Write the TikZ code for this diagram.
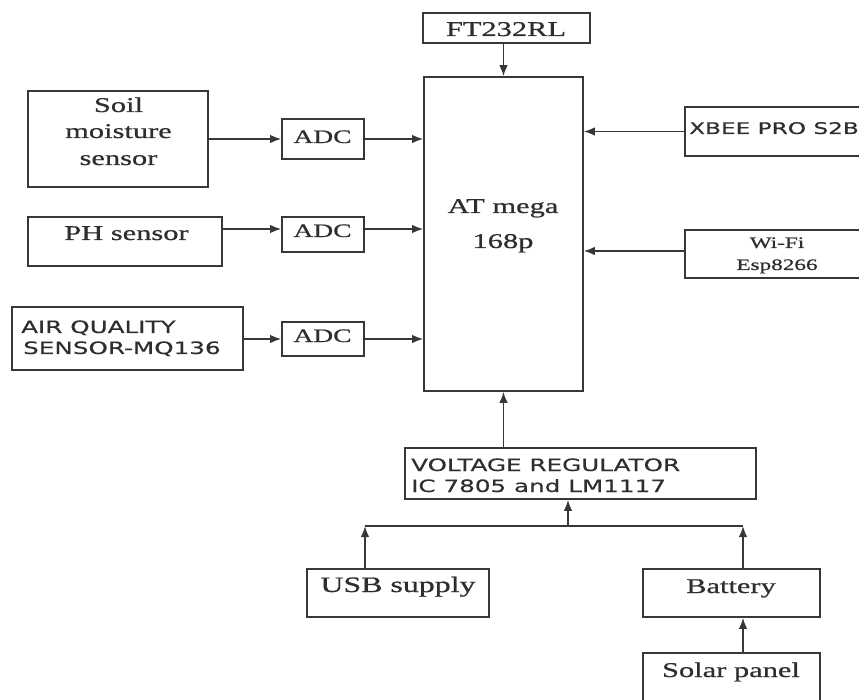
\documentclass[tikz,border=0pt]{standalone}
\usepackage{fontspec}
\setmainfont{Liberation Serif}[FakeStretch=1.45,FakeBold=0.8]
\newfontfamily\widesans{DejaVu Sans}[FakeStretch=1.45,FakeBold=0.4]
\usetikzlibrary{arrows.meta,fit}
\definecolor{linecol}{gray}{0.22}
\definecolor{txtcol}{gray}{0.18}
\begin{document}
\begin{tikzpicture}[x=1pt,y=-1pt,
  box/.style={draw=linecol, line width=1.6pt, inner sep=0pt},
  arr/.style={draw=linecol, line width=1.6pt, -{Latex[length=11pt,width=8.5pt]}},
  ln/.style={draw=linecol, line width=1.6pt},
  txt/.style={text=txtcol, inner sep=0pt, anchor=base},
  serif/.style={font=\fontsize{#1}{#1}\selectfont},
  sans/.style={font=\widesans\fontsize{#1}{#1}\selectfont}]
\useasboundingbox (0,0) rectangle (859,700);
\clip (0,0) rectangle (859,700);
% boxes
\node[box, fit={(423,13) (590,43)}] (ft) {};
\node[box, fit={(424,77) (583,391)}] (at) {};
\node[box, fit={(28,91) (208,187)}] (soil) {};
\node[box, fit={(282,119) (364,159)}] (adc1) {};
\node[box, fit={(28,217) (222,266)}] (ph) {};
\node[box, fit={(282,217) (364,252)}] (adc2) {};
\node[box, fit={(12,307) (243,370)}] (air) {};
\node[box, fit={(282,322) (364,356)}] (adc3) {};
\node[box, fit={(685,107) (872,156)}] (xbee) {};
\node[box, fit={(685,230) (872,278)}] (wifi) {};
\node[box, fit={(405,448) (756,499)}] (reg) {};
\node[box, fit={(307,569) (489,617)}] (usb) {};
\node[box, fit={(643,569) (820,617)}] (bat) {};
\node[box, fit={(643,653) (820,730)}] (sol) {};
% texts
\node[txt, serif=21] (tft) at (506,36) {FT232RL};
\node[txt, serif=21] (tat1) at (503,213) {AT mega};
\node[txt, serif=21] (tat2) at (503,248) {168p};
\node[txt, serif=21] (ts1) at (118.5,112) {Soil};
\node[txt, serif=21] (ts2) at (118.5,138) {moisture};
\node[txt, serif=21] (ts3) at (118.5,165) {sensor};
\node[txt, serif=19] (ta1) at (322.5,143) {ADC};
\node[txt, serif=19] (ta2) at (322.5,237) {ADC};
\node[txt, serif=19] (ta3) at (322.5,342) {ADC};
\node[txt, serif=21] (tph) at (126.5,240) {PH sensor};
\node[txt, sans=17, anchor=base west] (tair1) at (21,333) {AIR QUALITY};
\node[txt, sans=17, anchor=base west] (tair2) at (23,354) {SENSOR-MQ136};
\node[txt, sans=16, anchor=base west] (txb) at (689,134) {XBEE PRO S2B};
\node[txt, serif=16] (tw1) at (777,248) {Wi-Fi};
\node[txt, serif=16] (tw2) at (777,270) {Esp8266};
\node[txt, sans=17, anchor=base west] (tr1) at (411,471) {VOLTAGE REGULATOR};
\node[txt, sans=17, anchor=base west] (tr2) at (411,492) {IC 7805 and LM1117};
\node[txt, serif=22] (tusb) at (398,592) {USB supply};
\node[txt, serif=21] (tbat) at (731,593) {Battery};
\node[txt, serif=21] (tsol) at (731,677) {Solar panel};
% connectors
\coordinate (r2) at (250,229);
\coordinate (r5) at (640,251);
\coordinate (busL) at (365,526);
\coordinate (busR) at (743,526);
\coordinate (busM) at (568,526);
\draw[arr] (ft.south -| at.north) -- (at.north);
\draw[arr] (soil.east) -- (adc1.west);
\draw[arr] (adc1.east) -- (adc1.east -| at.west);
\draw[arr] (ph.east |- r2) -- (adc2.west |- r2);
\draw[arr] (adc2.east |- r2) -- (at.west |- r2);
\draw[arr] (air.east |- adc3.west) -- (adc3.west);
\draw[arr] (adc3.east) -- (adc3.east -| at.west);
\draw[arr] (xbee.west) -- (xbee.west -| at.east);
\draw[arr] (wifi.west |- r5) -- (at.east |- r5);
\draw[arr] (reg.north -| at.south) -- (at.south);
\draw[ln] (busL) -- (busR);
\draw[arr] (usb.north -| busL) -- (busL);
\draw[arr] (bat.north -| busR) -- (busR);
\draw[arr] (busM) -- (busM |- reg.south);
\draw[arr] (sol.north -| busR) -- (bat.south -| busR);
\end{tikzpicture}
\end{document}
